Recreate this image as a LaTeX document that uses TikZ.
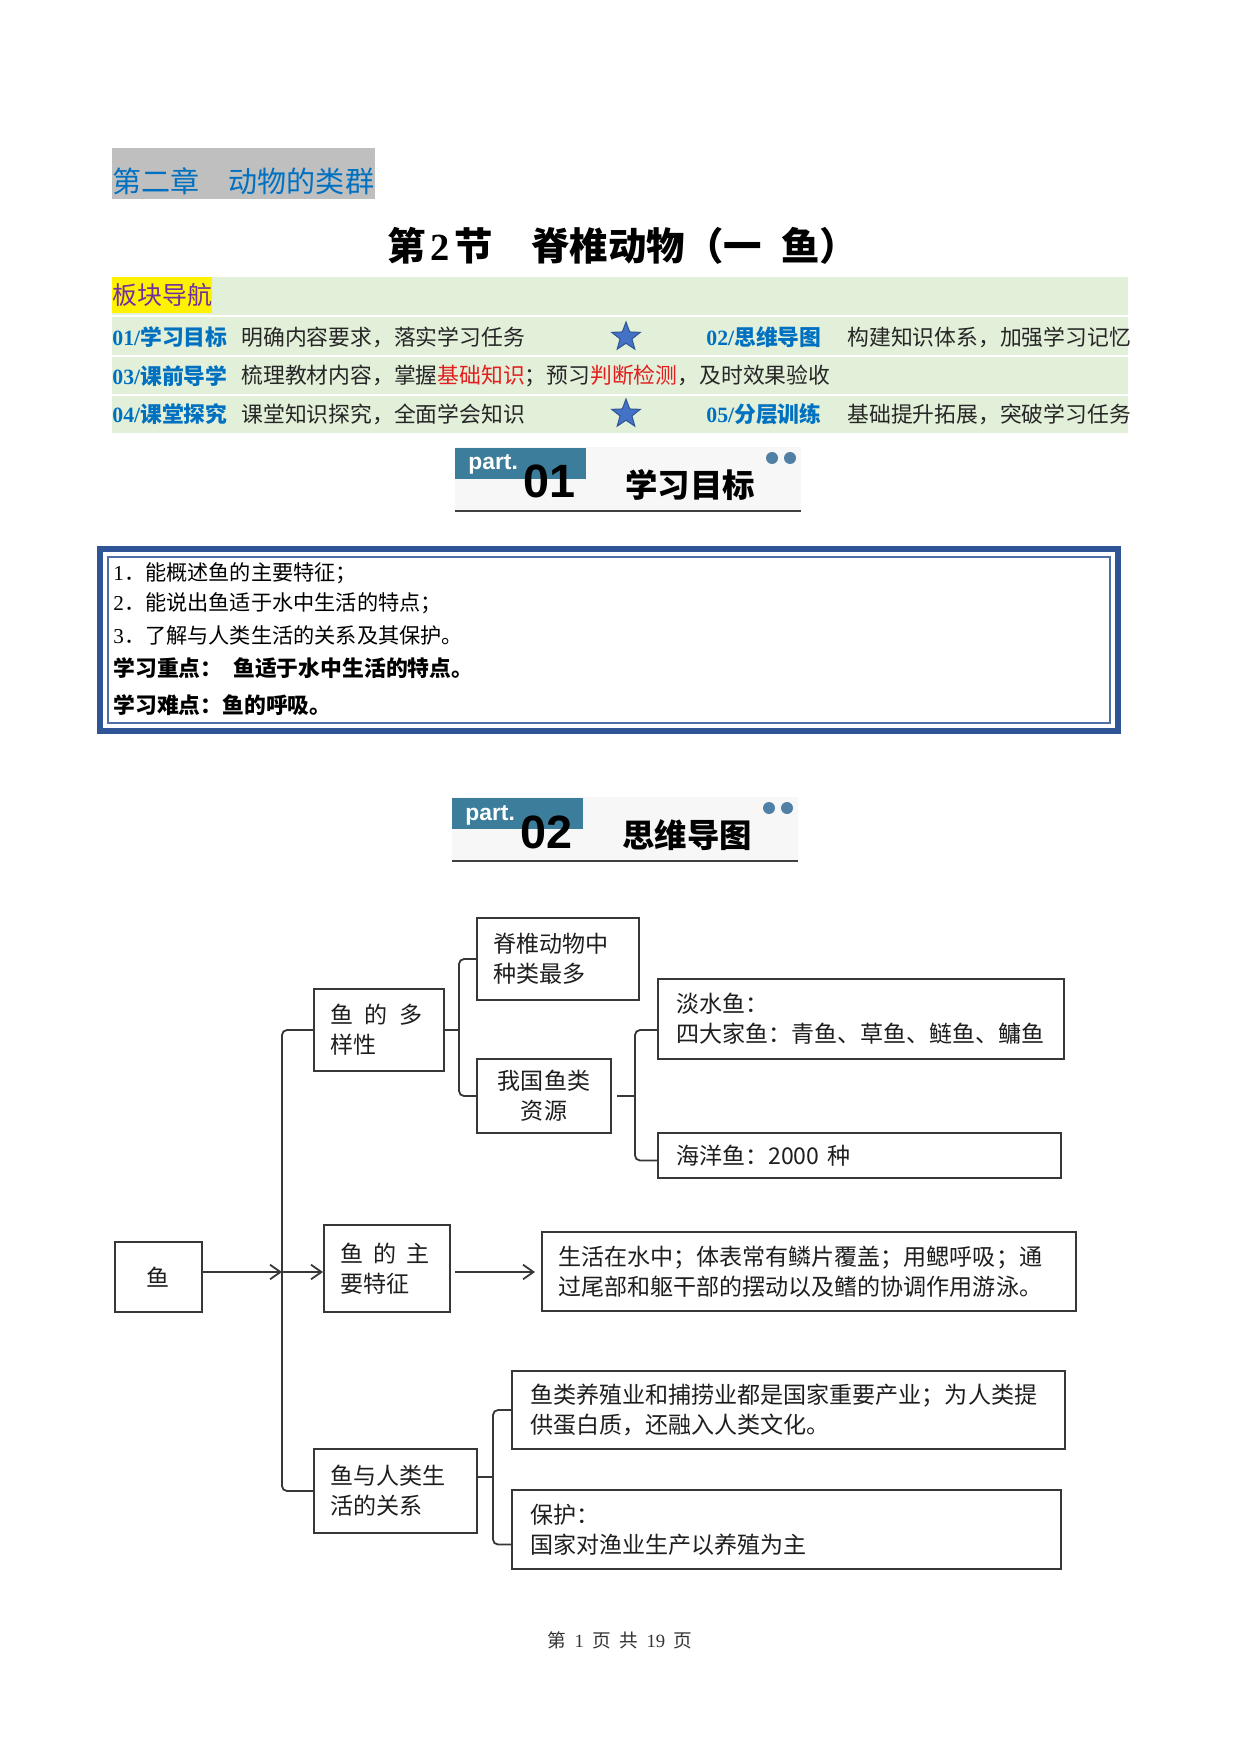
\documentclass[tikz,border=0pt]{standalone}
\usepackage{fontspec}
\setmainfont{Noto Sans CJK SC}
\newfontfamily\tnr{Liberation Serif}
\newfontfamily\arialf{Liberation Sans}
\usetikzlibrary{positioning,calc,shapes.geometric,arrows.meta}
\definecolor{chapgray}{RGB}{191,191,191}
\definecolor{chapblue}{RGB}{0,112,192}
\definecolor{navgreen}{RGB}{226,239,217}
\definecolor{navpurple}{RGB}{112,48,160}
\definecolor{navred}{RGB}{226,30,30}
\definecolor{starblue}{RGB}{68,114,196}
\definecolor{partteal}{RGB}{59,125,155}
\definecolor{dotblue}{RGB}{80,128,165}
\definecolor{framblue}{RGB}{47,85,151}
\definecolor{linegray}{RGB}{55,55,55}
\definecolor{txtgray}{RGB}{30,30,30}
\newdimen\px \px=0.16922mm
\newcommand\fs[2]{\fontsize{#1}{#2}\selectfont}
\newcommand\mapfont{\fs{11.1}{14.5}}

% part header: x, y, number, title
\newcommand\parthead[4]{%
	\begin{scope}[shift={(#1,#2)}]
		\fill[black!3] (0,0) rectangle (346,64);
		\node[fill=partteal,anchor=north west,minimum width=131\px,minimum height=31\px,inner sep=0] (teal#3) at (0,1) {};
		\node[anchor=base west,inner sep=0,text=white,font=\arialf\bfseries\fs{11}{13}] (part#3) at (13,23) {part.};
		\node[anchor=base west,inner sep=0,font=\arialf\bfseries\fs{22.5}{26}] (num#3) at (68,51) {#3};
		\node[anchor=west,inner sep=0,font=\bfseries\fs{15.6}{18}] (title#3) at (170,38) {#4};
		\foreach \dx in {317,335} \fill[dotblue] (\dx,11) circle (6);
		\draw[line width=2.5\px,black!75] (0,64) -- (346,64);
	\end{scope}}

\tikzset{
	navtag/.style={anchor=west,inner sep=0,text=chapblue,font=\bfseries\fs{10.5}{12}},
	navtxt/.style={anchor=west,inner sep=0,text=black!85,font=\fs{10.5}{12}},
	navstar/.style={star,star points=5,star point ratio=2.4,fill=starblue,draw=framblue,line width=1\px,minimum size=30\px,inner sep=0},
	goaltxt/.style={anchor=west,inner sep=0,font=\fs{10.2}{12}},
	mbox/.style={draw=linegray,line width=2\px,inner xsep=16\px,inner ysep=0pt,align=left,font=\mapfont,text=txtgray},
	conn/.style={linegray,line width=1.8\px,rounded corners=5\px},
	arr/.style={linegray,line width=1.8\px,-{Straight Barb[length=5pt,width=7pt]}}
}

\begin{document}
\begin{tikzpicture}[x=0.16922mm,y=-0.16922mm]
	\useasboundingbox (0,0) rectangle (1241,1754);
	
	% heading
	\node[fill=chapgray,minimum width=263\px,minimum height=51\px,inner sep=0] (chapbg) at (243.5,173.5) {};
	\node[anchor=west,inner sep=0,text=chapblue,font=\fs{14}{16}] (chap) at (112,181) {第二章\hspace{1em}动物的类群};
	\node[font=\bfseries\fs{18.5}{21}] (title) at (623,246) {第\hspace{.12em}{\tnr 2}\hspace{.12em}节\hspace{1em}脊椎动物（一\hspace{.5em}鱼）};
	
	% navigation
	\node[fill=navgreen,minimum width=1016\px,minimum height=156\px,inner sep=0] (nav) at (620,355) {};
	\foreach \y in {316,356,395} \draw[white,line width=1.5\px] (112,\y) -- (1128,\y);
	\node[fill=yellow,anchor=north west,inner xsep=0,inner ysep=0,minimum height=36\px,text=navpurple,font=\fs{12}{14}] (navhead) at (112,277) {板块导航};
	
	\node[navtag] (tag01) at (112,337) {{\tnr 01/}学习目标};
	\node[navtxt] (txt01) at (241,337) {明确内容要求，落实学习任务};
	\node[navstar] (star1) at (626,337) {};
	\node[navtag] (tag02) at (706,337) {{\tnr 02/}思维导图};
	\node[navtxt] (txt02) at (847,337) {构建知识体系，加强学习记忆};
	
	\node[navtag] (tag03) at (112,376) {{\tnr 03/}课前导学};
	\node[navtxt] (txt03) at (241,376) {梳理教材内容，掌握\textcolor{navred}{基础知识}；预习\textcolor{navred}{判断检测}，及时效果验收};
	
	\node[navtag] (tag04) at (112,414) {{\tnr 04/}课堂探究};
	\node[navtxt] (txt04) at (241,414) {课堂知识探究，全面学会知识};
	\node[navstar] (star2) at (626,414) {};
	\node[navtag] (tag05) at (706,414) {{\tnr 05/}分层训练};
	\node[navtxt] (txt05) at (847,414) {基础提升拓展，突破学习任务};
	
	% part 01
	\parthead{455}{447}{01}{学习目标}
	
	\node[draw=framblue,line width=6\px,minimum width=1018\px,minimum height=182\px,inner sep=0] (goalbox) at (609,640) {};
	\node[draw=framblue!85,line width=1.4\px,minimum width=1002\px,minimum height=166\px,inner sep=0] (goalin) at (goalbox) {};
	\node[goaltxt] (g1) at (113,573) {{\tnr 1}．能概述鱼的主要特征；};
	\node[goaltxt] (g2) at (113,603) {{\tnr 2}．能说出鱼适于水中生活的特点；};
	\node[goaltxt] (g3) at (113,635) {{\tnr 3}．了解与人类生活的关系及其保护。};
	\node[goaltxt,font=\bfseries\fs{10.5}{12}] (g4) at (113,668) {学习重点：\hspace{.5em}鱼适于水中生活的特点。};
	\node[goaltxt,font=\bfseries\fs{10.5}{12}] (g5) at (113,705) {学习难点：鱼的呼吸。};
	
	% part 02
	\parthead{452}{797}{02}{思维导图}
	
	\node[mbox,text width=55\px,minimum height=70\px,align=center] (yu) at (158.5,1277) {鱼};
	\node[mbox,text width=98\px,minimum height=82\px] (duo) at (379,1030) {鱼\hspace{.5em}的\hspace{.5em}多\\样性};
	\node[mbox,text width=94\px,minimum height=87\px] (tezheng) at (387,1268.5) {鱼\hspace{.45em}的\hspace{.45em}主\\要特征};
	\node[mbox,text width=131\px,minimum height=84\px] (guanxi) at (395.5,1491) {鱼与人类生\\活的关系};
	\node[mbox,text width=130\px,minimum height=82\px] (jizhui) at (558,959) {脊椎动物中\\种类最多};
	\node[mbox,text width=102\px,minimum height=74\px,align=center] (woguo) at (544,1096) {我国鱼类\\资源};
	\node[mbox,inner xsep=18\px,text width=370\px,minimum height=80\px] (danshui) at (861,1019) {淡水鱼：\\四大家鱼：青鱼、草鱼、鲢鱼、鳙鱼};
	\node[mbox,inner xsep=18\px,text width=367\px,minimum height=45\px] (haiyang) at (859.5,1155.5) {海洋鱼：2000\ 种};
	\node[mbox,text width=502\px,minimum height=79\px] (shenghuo) at (809,1271.5) {生活在水中；体表常有鳞片覆盖；用鳃呼吸；通\\过尾部和躯干部的摆动以及鳍的协调作用游泳。};
	\node[mbox,inner xsep=18\px,text width=517\px,minimum height=78\px] (yangzhi) at (788.5,1410) {鱼类养殖业和捕捞业都是国家重要产业；为人类提\\供蛋白质，还融入人类文化。};
	\node[mbox,inner xsep=18\px,text width=513\px,minimum height=79\px] (baohu) at (786.5,1529.5) {保护：\\国家对渔业生产以养殖为主};
	
	\coordinate (fork) at (282,1272);
	\coordinate (b1) at (459,1030);
	\coordinate (b2) at (635,1096);
	\coordinate (b3) at (493,1477);
	
	\draw[arr] (yu.east |- fork) -- (fork);
	\draw[conn] (duo.west) -| (fork) |- (guanxi.west);
	\draw[arr] (fork) -- (tezheng.west |- fork);
	\draw[arr,shorten <=4\px,shorten >=6\px] (tezheng.east |- fork) -- (shenghuo.west |- fork);
	
	\draw[conn] (duo.east) -- (b1);
	\draw[conn] (jizhui.west) -| (b1) |- (woguo.west);
	
	\draw[conn,shorten <=5\px] (woguo.east) -- (b2);
	\draw[conn] ($(danshui.west)+(0,11)$) -| (b2) |- ($(haiyang.west)+(0,5)$);
	
	\draw[conn] (guanxi.east |- b3) -- (b3);
	\draw[conn] (yangzhi.west) -| (b3) |- ($(baohu.west)+(0,15)$);
	
	\node[font=\fs{9}{11},text=black!80] (foot) at (620,1640) {第\hspace{.45em}{\tnr 1}\hspace{.45em}页\hspace{.45em}共\hspace{.45em}{\tnr 19}\hspace{.45em}页};
\end{tikzpicture}
\end{document}
